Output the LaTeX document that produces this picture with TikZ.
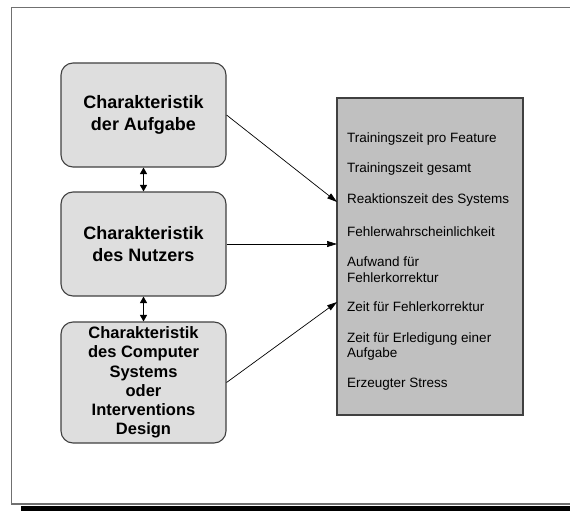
\documentclass[tikz,border=0pt]{standalone}
\usepackage{fontspec}
\setmainfont{Liberation Sans}
\usetikzlibrary{arrows.meta}
\definecolor{boxfill}{HTML}{DEDEDE}
\definecolor{panelfill}{HTML}{C0C0C0}
\definecolor{edge}{HTML}{404040}
\definecolor{framegray}{HTML}{707070}
\tikzset{
  factor/.style={draw=edge, line width=1.1pt, fill=boxfill, rounded corners=12pt,
    minimum width=165pt, align=center, inner sep=0pt, font=\bfseries},
  item/.style={anchor=west, align=left, inner sep=0pt,
    font=\fontsize{13.5}{15.5}\selectfont},
  flow/.style={-{Triangle[length=10pt,width=6pt]}, line width=0.7pt},
  link/.style={{Triangle[length=6.5pt,width=7pt]}-{Triangle[length=6.5pt,width=7pt]}, line width=1pt}
}
\begin{document}
\begin{tikzpicture}[x=1pt, y=-1pt]
  \useasboundingbox (0,0) rectangle (570,511);
  % outer frame, open to the right, with a black bar beneath
  \draw[framegray, line width=1.6pt] (570,7.5) -- (11.5,7.5) -- (11.5,504) -- (570,504);
  \fill[black] (21,506) rectangle (570,511);

  % factor boxes on the left
  \node[factor, minimum height=104pt, font=\bfseries\fontsize{18}{22}\selectfont]
    (task) at (143.5,115) {Charakteristik\\der Aufgabe};
  \node[factor, minimum height=104pt, font=\bfseries\fontsize{18}{22}\selectfont]
    (user) at (143.5,244) {Charakteristik\\des Nutzers};
  \node[factor, minimum height=121pt, font=\bfseries\fontsize{16.5}{19.2}\selectfont]
    (sys) at (143.5,382.5) {Charakteristik\\des Computer\\Systems\\oder\\Interventions\\Design};

  % measures panel on the right
  \node[draw=edge, line width=1.3pt, fill=panelfill, minimum width=186pt,
    minimum height=317pt, inner sep=0pt] (panel) at (430,256.5) {};
  \node[item] (m1) at (347,139) {Trainingszeit pro Feature};
  \node[item] (m2) at (347,169) {Trainingszeit gesamt};
  \node[item] (m3) at (347,200) {Reaktionszeit des Systems};
  \node[item] (m4) at (347,232) {Fehlerwahrscheinlichkeit};
  \node[item] (m5) at (347,269.5) {Aufwand für\\Fehlerkorrektur};
  \node[item] (m6) at (347,307) {Zeit für Fehlerkorrektur};
  \node[item] (m7) at (347,346.5) {Zeit für Erledigung einer\\Aufgabe};
  \node[item] (m8) at (347,384) {Erzeugter Stress};

  % entry points on the panel edge
  \coordinate (in1) at (337,202);
  \coordinate (in2) at (337,244);
  \coordinate (in3) at (337,302);

  % connectors
  \draw[flow] (task.east) -- (in1);
  \draw[flow] (user.east) -- (in2);
  \draw[flow] (sys.east) -- (in3);
  \draw[link] (task.south) -- (user.north);
  \draw[link] (user.south) -- (sys.north);
\end{tikzpicture}
\end{document}
